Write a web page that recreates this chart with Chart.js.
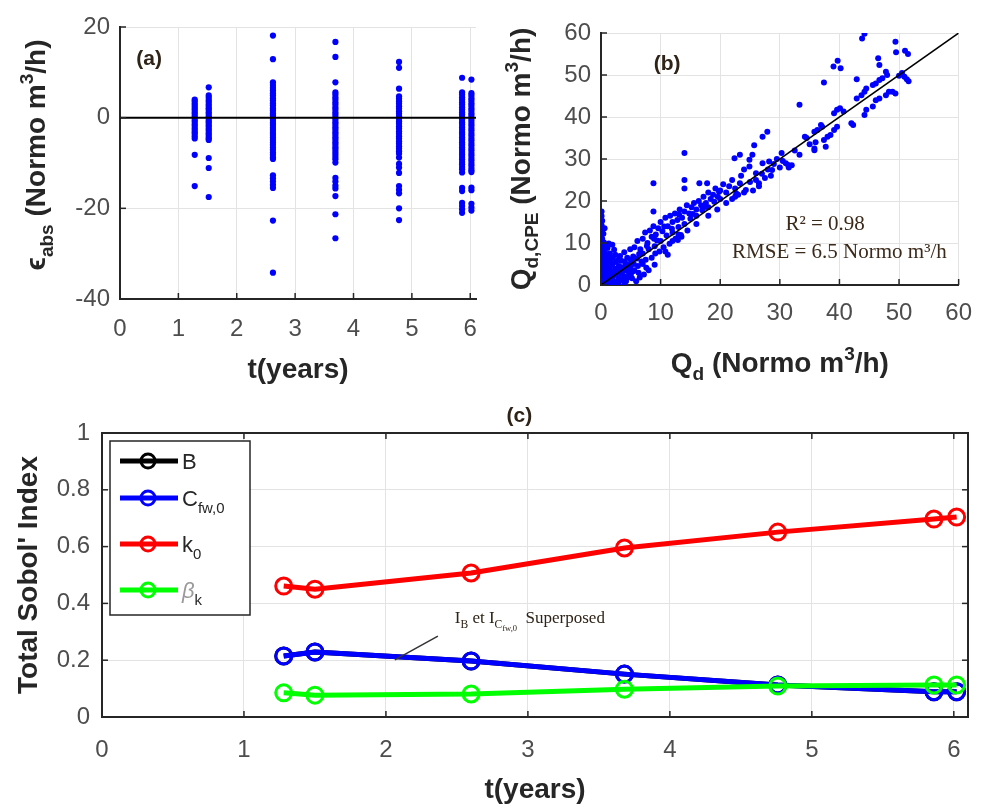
<!DOCTYPE html>
<html>
<head>
<meta charset="utf-8">
<script src="https://cdn.jsdelivr.net/npm/chart.js@4.4.0/dist/chart.umd.min.js"></script>
<style>
  body { margin: 0; background: #fff; }
  #wrap { position: relative; width: 986px; height: 808px; }
  canvas { position: absolute; }
</style>
</head>
<body>
<div id="wrap">
  <canvas id="ca" width="493" height="390" style="left:0;top:0"></canvas>
  <canvas id="cb" width="493" height="390" style="left:493px;top:0"></canvas>
  <canvas id="cc" width="986" height="418" style="left:0;top:390px"></canvas>
</div>
<script>
// ---- (a) residuals vs time ----
const tTicksA = [0, 1, 2, 3, 4, 5, 6];
const errTicks = [-40, -20, 0, 20];
const errTimes = [1.28, 1.52, 2.62, 3.69, 4.78, 5.86, 6.02];
const err128 = [4.0, 3.6, 3.1, 2.7, 2.2, 1.8, 1.3, 0.9, 0.4, 0.0, -0.5, -0.9, -1.4, -1.8, -2.3, -2.7, -3.2, -3.6, -4.1, -4.6, -8.2, -15.1];
const err152 = [6.7, 4.9, 4.4, 3.9, 3.5, 3.0, 2.6, 2.1, 1.7, 1.2, 0.8, 0.3, -0.1, -0.6, -1.0, -1.5, -1.9, -2.4, -2.8, -3.3, -3.7, -4.2, -4.6, -4.9, -8.9, -11.1, -17.5];
const err262 = [18.1, 12.9, 7.8, 7.2, 6.6, 6.0, 5.4, 4.9, 4.3, 3.8, 3.2, 2.7, 2.1, 1.6, 1.0, 0.5, 0.0, -0.5, -1.1, -1.6, -2.2, -2.7, -3.3, -3.8, -4.4, -4.9, -5.5, -6.0, -6.6, -7.1, -7.7, -8.2, -8.8, -9.1, -12.7, -13.4, -14.1, -14.8, -15.5, -22.7, -34.2];
const err369 = [16.7, 13.4, 7.8, 5.6, 5.1, 4.5, 4.0, 3.4, 2.9, 2.3, 1.8, 1.2, 0.7, 0.1, -0.4, -1.0, -1.5, -2.1, -2.6, -3.2, -3.7, -4.3, -4.8, -5.4, -5.9, -6.5, -7.0, -7.6, -8.1, -8.7, -9.2, -9.9, -13.3, -14.1, -15.0, -15.6, -17.3, -21.3, -26.6];
const err478 = [12.3, 11.0, 6.4, 4.7, 4.2, 3.6, 3.1, 2.5, 2.0, 1.4, 0.9, 0.3, -0.2, -0.8, -1.3, -1.9, -2.4, -3.0, -3.5, -4.1, -4.6, -5.2, -5.7, -6.3, -6.8, -7.4, -7.9, -8.8, -10.2, -11.0, -12.2, -15.1, -15.9, -16.7, -20.0, -22.6];
const err586 = [8.8, 5.6, 5.1, 4.5, 4.0, 3.4, 2.9, 2.3, 1.8, 1.2, 0.7, 0.1, -0.4, -1.0, -1.5, -2.1, -2.6, -3.2, -3.7, -4.3, -4.8, -5.4, -5.9, -6.5, -7.0, -7.6, -8.1, -8.7, -9.2, -9.8, -10.3, -10.9, -11.4, -12.1, -15.5, -16.2, -18.8, -19.5, -20.2, -21.0];
const err602 = [8.4, 5.4, 4.9, 4.3, 3.8, 3.2, 2.7, 2.1, 1.6, 1.0, 0.5, -0.1, -0.6, -1.2, -1.7, -2.3, -2.8, -3.4, -3.9, -4.5, -5.0, -5.6, -6.1, -6.7, -7.2, -7.8, -8.3, -8.9, -9.4, -10.0, -10.5, -11.1, -11.6, -12.0, -15.4, -16.0, -19.0, -19.8, -20.5];
const errCols = [err128, err152, err262, err369, err478, err586, err602];

// ---- (b) CPE vs measured flow [Qd, Qd,CPE] ----
const qTicks = [0, 10, 20, 30, 40, 50, 60];
const qdPairs = [
  [0.1,17.5],[0.1,16.4],[0.2,15.3],[0.1,14.2],[0.2,13.1],[0.1,12.0],[0.2,11.0],[0.1,10.0],[0.2,9.0],[0.1,8.0],[0.2,7.0],[0.1,6.0],[0.2,5.0],[0.1,4.0],[0.2,3.0],[0.1,2.0],[0.2,1.0],[0.1,0.2],
  [0.4,12.2],[0.5,10.1],[0.4,8.6],[0.5,7.1],[0.4,5.6],[0.5,4.1],[0.4,2.6],[0.5,1.1],
  [0.8,9.1],[0.7,7.6],[0.8,6.0],[0.7,4.6],[0.8,3.1],[0.7,1.6],[0.8,0.3],
  [1.1,8.8],[1.2,6.8],[1.1,5.2],[1.2,3.6],[1.1,2.2],[1.2,0.8],
  [1.5,7.5],[1.6,5.8],[1.5,4.2],[1.6,2.8],[1.5,1.4],[1.6,0.2],
  [1.9,9.6],[2.0,6.5],[1.9,4.8],[2.0,3.2],[1.9,1.8],[2.0,0.5],
  [2.4,7.2],[2.5,5.5],[2.4,3.8],[2.5,2.4],[2.4,0.9],
  [2.9,6.0],[3.0,4.5],[2.9,3.0],[3.0,1.5],[2.9,0.3],
  [3.4,5.8],[3.5,4.2],[3.4,2.6],[3.5,1.2],
  [3.9,7.8],[4.0,5.6],[3.9,4.0],[4.0,2.0],[3.9,0.6],
  [4.4,6.5],[4.5,4.8],[4.4,3.4],[4.5,1.8],
  [4.9,8.5],[5.0,6.0],[4.9,4.2],[5.0,2.5],
  [5.4,6.8],[5.5,5.0],[5.4,3.3],
  [0.6,13.5],[1.3,9.9],[2.2,8.4],[2.7,4.0],[3.2,6.9],[3.7,3.3],[4.2,0.9],[4.7,3.0],[5.2,1.6],[6.3,2.9],[6.8,5.6],[7.6,4.1],
  [5.9,0.9],[6.5,1.8],[7.2,2.5],[8.0,3.5],[9.0,4.8],
  [5.6,9.0],[6.1,10.5],[6.6,8.5],[7.0,11.0],[7.4,12.5],[7.8,10.0],[8.2,13.0],[8.5,11.5],[8.8,14.0],[9.2,12.0],
  [9.6,13.5],[10.0,15.0],[10.3,12.8],[10.8,16.0],[11.2,14.0],[11.6,16.5],[12.0,15.0],[12.4,17.0],[12.8,15.5],[13.2,18.0],
  [13.6,16.0],[14.0,17.5],[14.4,19.0],[14.8,17.0],[15.2,18.5],[15.6,19.5],[16.0,18.0],[16.4,20.0],[16.8,19.0],[17.2,21.0],
  [17.6,19.5],[18.0,22.0],[18.4,20.5],[18.8,21.5],[19.2,23.0],[19.6,21.0],[20.0,22.5],[20.5,24.0],[21.0,22.0],[21.5,23.5],
  [22.0,25.0],[22.5,23.0],
  [9.4,10.6],[10.6,13.9],[11.9,13.4],[13.1,16.8],[15.4,16.9],[17.4,18.6],[19.8,22.2],[6.4,7.4],[7.7,9.3],[8.9,11.0],
  [2.0,2.5],[3.1,3.2],[4.1,4.5],[5.1,5.8],[6.0,6.3],[7.0,7.5],[8.0,8.5],[9.0,9.2],[10.0,10.5],[11.0,11.8],
  [12.0,12.5],[13.0,13.8],[14.0,14.5],[15.0,15.8],[16.0,16.5],[17.0,17.8],[18.0,18.5],[19.0,19.8],[20.0,20.5],
  [5.6,3.5],[6.2,4.5],[7.0,5.0],[7.5,6.0],[8.5,6.5],[9.1,7.5],[9.8,8.0],[10.5,9.0],[10.8,8.0],[11.2,7.2],
  [11.5,9.8],[12.0,10.5],[12.5,11.0],[12.9,10.7],[13.4,11.9],[13.0,12.0],[13.5,11.5],[14.5,13.0],[16.0,14.5],[18.0,16.5],
  [19.5,18.0],[21.0,19.5],[22.0,20.5],[22.5,21.0],[23.0,21.5],[24.0,22.0],
  [8.8,24.2],[8.8,17.5],[14.0,31.4],[14.0,25.0],[14.0,23.0],[16.5,24.2],[17.8,24.2],
  [22.7,21.8],[23.3,24.2],[24.3,22.6],[23.5,26.0],[24.0,27.5],[24.9,28.2],[26.0,26.6],[26.5,24.2],[27.1,29.0],[28.2,29.4],
  [28.7,27.4],[22.4,30.2],[23.3,31.0],[24.9,29.8],[25.4,31.0],[25.7,33.3],[27.1,35.3],[27.9,36.5],[30.3,31.4],[31.4,28.6],
  [33.3,31.0],[35.8,32.1],
  [25.0,24.5],[26.0,25.0],[27.0,26.5],[28.0,27.5],[29.0,28.8],[29.5,30.0],[30.5,29.5],[31.0,29.0],[32.0,28.5],[31.5,28.0],
  [30.0,28.0],[28.5,26.0],[27.5,25.5],[26.5,23.5],[25.5,22.5],
  [33.3,42.9],[34.2,35.3],[35.8,32.5],[36.9,38.1],[37.1,37.7],[36.3,36.9],[35.8,36.5],[37.4,34.5],[37.7,32.9],[38.0,35.3],
  [38.5,35.7],[39.1,36.9],[39.6,37.7],[37.4,48.2],[39.0,52.0],[39.7,53.4],[40.2,51.6],[39.1,40.9],[39.6,41.7],[40.1,42.1],
  [40.7,41.3],[42.0,38.5],[42.3,38.1],[42.9,44.4],[42.9,49.0],[43.7,45.2],[44.2,46.0],[44.5,46.8],[45.6,47.6],[46.1,48.0],
  [46.7,48.8],[47.2,49.2],[48.0,50.0],[47.8,50.8],[46.5,54.0],[46.7,52.4],[44.2,59.8],[43.8,58.7],[49.4,57.9],[49.5,55.4],
  [44.2,40.5],[44.5,41.7],[45.6,42.5],[46.1,44.0],[46.7,44.4],[47.8,45.2],[48.3,46.0],[48.9,46.0],[49.4,45.6],[34.5,35.0],
  [35.0,33.5],[32.5,32.0],[36.0,34.0],
  [51.0,55.8],[51.5,55.0],[50.9,49.6],[51.3,49.0],[51.6,48.5],[50.5,50.5],[50.0,49.8]
];

// ---- (c) total Sobol' indices ----
const tTicksC = [0, 1, 2, 3, 4, 5, 6];
const sobolTicks = [0, 0.2, 0.4, 0.6, 0.8, 1];
const sobolT = [1.28, 1.5, 2.6, 3.68, 4.76, 5.86, 6.02];
const sobolB = [0.215, 0.229, 0.197, 0.151, 0.113, 0.089, 0.089];
const sobolCfw = [0.215, 0.229, 0.197, 0.151, 0.113, 0.089, 0.089];
const sobolK0 = [0.461, 0.45, 0.507, 0.595, 0.651, 0.697, 0.704];
const sobolBeta = [0.085, 0.077, 0.081, 0.098, 0.109, 0.113, 0.113];

const TICK_FONT = { family: "'Liberation Sans', Arial, sans-serif", size: 24 };
const TICK_COLOR = '#4d4d4d';
const GRID = '#e3e3e3';
const AXIS = '#262626';
const SANS = "'Liberation Sans', Arial, sans-serif";
const SERIF = "'Liberation Serif', 'DejaVu Serif', serif";

// rich text with sub/superscripts; (x,y) is the visual centre of the main text
function richText(ctx, parts, x, y, o) {
  const fs = o.size;
  const seg = parts.map(p => {
    const k = p.k || 'n';
    const size = k === 'n' ? fs : (k === 'sub2' ? fs * 0.5 : fs * 0.68);
    const dy = k === 'sub' ? fs * 0.3 : k === 'sup' ? -fs * 0.42 : k === 'sub2' ? fs * 0.48 : 0;
    const font = (p.italic ? 'italic ' : '') + (o.weight || 'normal') + ' ' + size + 'px ' + o.family;
    ctx.font = font;
    return { t: p.t, font, dy, w: ctx.measureText(p.t).width, color: p.color || o.color };
  });
  const total = seg.reduce((a, s) => a + s.w, 0);
  ctx.save();
  ctx.translate(x, y);
  if (o.rotate) ctx.rotate(o.rotate);
  ctx.textBaseline = 'alphabetic';
  ctx.textAlign = 'left';
  let cx = o.align === 'left' ? 0 : -total / 2;
  const base = fs * 0.36;
  seg.forEach(s => {
    ctx.font = s.font;
    ctx.fillStyle = s.color;
    ctx.fillText(s.t, cx, base + s.dy);
    cx += s.w;
  });
  ctx.restore();
}

// MATLAB style inward tick marks
const innerTicks = {
  id: 'innerTicks',
  afterDraw(chart, args, opts) {
    const { ctx, chartArea: a, scales: { x, y } } = chart;
    const len = 6;
    ctx.save();
    ctx.strokeStyle = AXIS;
    ctx.lineWidth = 1.5;
    const seg = (x1, y1, x2, y2) => { ctx.beginPath(); ctx.moveTo(x1, y1); ctx.lineTo(x2, y2); ctx.stroke(); };
    x.ticks.forEach(t => {
      const p = x.getPixelForValue(t.value);
      seg(p, a.bottom, p, a.bottom - len);
      if (opts.box) seg(p, a.top, p, a.top + len);
    });
    y.ticks.forEach(t => {
      const p = y.getPixelForValue(t.value);
      seg(a.left, p, a.left + len, p);
      if (opts.box) seg(a.right, p, a.right - len, p);
    });
    if (opts.box) {
      ctx.lineWidth = 2;
      ctx.strokeRect(a.left, a.top, a.right - a.left, a.bottom - a.top);
    }
    ctx.restore();
  }
};

function axisOpts(min, max, ticks, fitKey, fitVal, pad) {
  return {
    type: 'linear', min, max,
    afterBuildTicks: s => { s.ticks = ticks.map(v => ({ value: v })); },
    afterFit: s => { s[fitKey] = fitVal; },
    ticks: {
      font: TICK_FONT, color: TICK_COLOR, padding: pad, autoSkip: false, maxRotation: 0,
      callback: v => String(Math.round(v * 10) / 10)
    },
    grid: { color: GRID, lineWidth: 1, drawTicks: false },
    border: { color: AXIS, width: 2 }
  };
}

const baseOpts = {
  responsive: false,
  animation: false,
  plugins: { legend: { display: false }, tooltip: { enabled: false } }
};

// (a)
const errPoints = [];
errCols.forEach((col, i) => col.forEach(v => errPoints.push({ x: errTimes[i], y: v })));

new Chart(document.getElementById('ca'), {
  type: 'scatter',
  data: {
    datasets: [
      { type: 'line', data: [{ x: 0, y: 0 }, { x: 6.1, y: 0 }], borderColor: '#000', borderWidth: 2, pointRadius: 0, order: 0 },
      { data: errPoints, backgroundColor: '#0000ff', borderWidth: 0, pointRadius: 3.1, order: 1 }
    ]
  },
  options: {
    ...baseOpts,
    layout: { padding: { top: 27, right: 4, left: 0, bottom: 0 } },
    scales: {
      x: axisOpts(0, 6.1, tTicksA, 'height', 91, 16),
      y: axisOpts(-40, 20, errTicks, 'width', 120, 10)
    },
    plugins: { ...baseOpts.plugins, innerTicks: { box: false } }
  },
  plugins: [innerTicks, {
    id: 'labelsA',
    afterDraw(chart) {
      const { ctx, scales: { x, y }, chartArea: a } = chart;
      richText(ctx, [{ t: '(a)' }], x.getPixelForValue(0.5), y.getPixelForValue(13.3),
        { size: 21, family: SANS, weight: 'bold', color: '#2e2316' });
      richText(ctx, [{ t: 't(years)' }], (a.left + a.right) / 2, 368,
        { size: 28, family: SANS, weight: 'bold', color: AXIS });
      richText(ctx, [{ t: '\u03f5' }, { t: 'abs', k: 'sub' }, { t: ' (Normo m' }, { t: '3', k: 'sup' }, { t: '/h)' }],
        35, 155, { size: 28, family: SANS, weight: 'bold', color: AXIS, rotate: -Math.PI / 2 });
    }
  }]
});

// (b)
const qdPoints = qdPairs.map(p => ({ x: p[0], y: p[1] }));

new Chart(document.getElementById('cb'), {
  type: 'scatter',
  data: {
    datasets: [
      { type: 'line', data: [{ x: 0, y: 0 }, { x: 60, y: 60 }], borderColor: '#000', borderWidth: 1.5, pointRadius: 0, order: 0 },
      { data: qdPoints, backgroundColor: '#0000ff', borderWidth: 0, pointRadius: 3, order: 1 }
    ]
  },
  options: {
    ...baseOpts,
    layout: { padding: { top: 33, right: 18, left: 0, bottom: 0 } },
    scales: {
      x: axisOpts(0, 60, qTicks, 'height', 105, 14),
      y: axisOpts(0, 60, qTicks, 'width', 108, 10)
    },
    plugins: { ...baseOpts.plugins, innerTicks: { box: false } }
  },
  plugins: [innerTicks, {
    id: 'labelsB',
    afterDraw(chart) {
      const { ctx, scales: { x, y }, chartArea: a } = chart;
      richText(ctx, [{ t: '(b)' }], x.getPixelForValue(11.1), y.getPixelForValue(53.1),
        { size: 21, family: SANS, weight: 'bold', color: '#2e2316' });
      richText(ctx, [{ t: 'R\u00b2 = 0.98' }], x.getPixelForValue(37.6), y.getPixelForValue(14.8),
        { size: 21, family: SERIF, color: '#3b2a1a' });
      richText(ctx, [{ t: 'RMSE = 6.5 Normo m\u00b3/h' }], x.getPixelForValue(40.0), y.getPixelForValue(8.3),
        { size: 21, family: SERIF, color: '#3b2a1a' });
      richText(ctx, [{ t: 'Q' }, { t: 'd', k: 'sub' }, { t: ' (Normo m' }, { t: '3', k: 'sup' }, { t: '/h)' }],
        (a.left + a.right) / 2, 362, { size: 28, family: SANS, weight: 'bold', color: AXIS });
      richText(ctx, [{ t: 'Q' }, { t: 'd,CPE', k: 'sub' }, { t: ' (Normo m' }, { t: '3', k: 'sup' }, { t: '/h)' }],
        27, (a.top + a.bottom) / 2, { size: 28, family: SANS, weight: 'bold', color: AXIS, rotate: -Math.PI / 2 });
    }
  }]
});

// (c)
const sobolSeries = [
  { name: [{ t: 'B' }], values: sobolB, color: '#000000', order: 4 },
  { name: [{ t: 'C' }, { t: 'fw,0', k: 'sub' }], values: sobolCfw, color: '#0000ff', order: 3 },
  { name: [{ t: 'k' }, { t: '0', k: 'sub' }], values: sobolK0, color: '#ff0000', order: 2 },
  { name: [{ t: '\u03b2', italic: true, color: '#9a9a9a' }, { t: 'k', k: 'sub' }], values: sobolBeta, color: '#00ff00', order: 1 }
];

new Chart(document.getElementById('cc'), {
  type: 'line',
  data: {
    datasets: sobolSeries.map(s => ({
      data: s.values.map((v, i) => ({ x: sobolT[i], y: v })),
      borderColor: s.color,
      borderWidth: 5,
      pointRadius: 8,
      pointBorderWidth: 3,
      pointBorderColor: s.color,
      pointBackgroundColor: 'rgba(255,255,255,0)',
      order: s.order
    }))
  },
  options: {
    ...baseOpts,
    layout: { padding: { top: 43, right: 18, left: 0, bottom: 0 } },
    scales: {
      x: axisOpts(0, 6.1, tTicksC, 'height', 91, 19),
      y: axisOpts(0, 1, sobolTicks, 'width', 102, 12)
    },
    plugins: { ...baseOpts.plugins, innerTicks: { box: true } }
  },
  plugins: [innerTicks, {
    id: 'labelsC',
    afterDraw(chart) {
      const { ctx, scales: { x, y }, chartArea: a } = chart;
      richText(ctx, [{ t: '(c)' }], x.getPixelForValue(2.94), y.getPixelForValue(1.067),
        { size: 21, family: SANS, weight: 'bold', color: '#2e2316' });
      richText(ctx, [{ t: 't(years)' }], (a.left + a.right) / 2, 398,
        { size: 28, family: SANS, weight: 'bold', color: AXIS });
      richText(ctx, [{ t: "Total Sobol' Index" }], 27, (a.top + a.bottom) / 2,
        { size: 28, family: SANS, weight: 'bold', color: AXIS, rotate: -Math.PI / 2 });

      // annotation
      ctx.save();
      ctx.strokeStyle = '#333';
      ctx.lineWidth = 1.5;
      ctx.beginPath();
      ctx.moveTo(x.getPixelForValue(2.366), y.getPixelForValue(0.285));
      ctx.lineTo(x.getPixelForValue(2.063), y.getPixelForValue(0.201));
      ctx.stroke();
      ctx.restore();
      richText(ctx, [{ t: 'I' }, { t: 'B', k: 'sub' }, { t: ' et I' }, { t: 'C', k: 'sub' }, { t: 'fw,0', k: 'sub2' }, { t: '  Superposed' }],
        x.getPixelForValue(2.485), y.getPixelForValue(0.352), { size: 17, family: SERIF, color: '#2e2316', align: 'left' });

      // legend
      const bx = a.left + 8, by = a.top + 8, bw = 140, bh = 174;
      ctx.save();
      ctx.fillStyle = '#fff';
      ctx.fillRect(bx, by, bw, bh);
      ctx.strokeStyle = AXIS;
      ctx.lineWidth = 1.5;
      ctx.strokeRect(bx, by, bw, bh);
      const rows = [20, 57, 103, 149];
      sobolSeries.forEach((s, i) => {
        const ry = by + rows[i];
        ctx.strokeStyle = s.color;
        ctx.lineWidth = 5;
        ctx.beginPath(); ctx.moveTo(bx + 10, ry); ctx.lineTo(bx + 68, ry); ctx.stroke();
        ctx.lineWidth = 3;
        ctx.beginPath(); ctx.arc(bx + 38, ry, 7, 0, Math.PI * 2); ctx.stroke();
        richText(ctx, s.name, bx + 72, ry, { size: 22, family: SANS, color: AXIS, align: 'left' });
      });
      ctx.restore();
    }
  }]
});
</script>
</body>
</html>
